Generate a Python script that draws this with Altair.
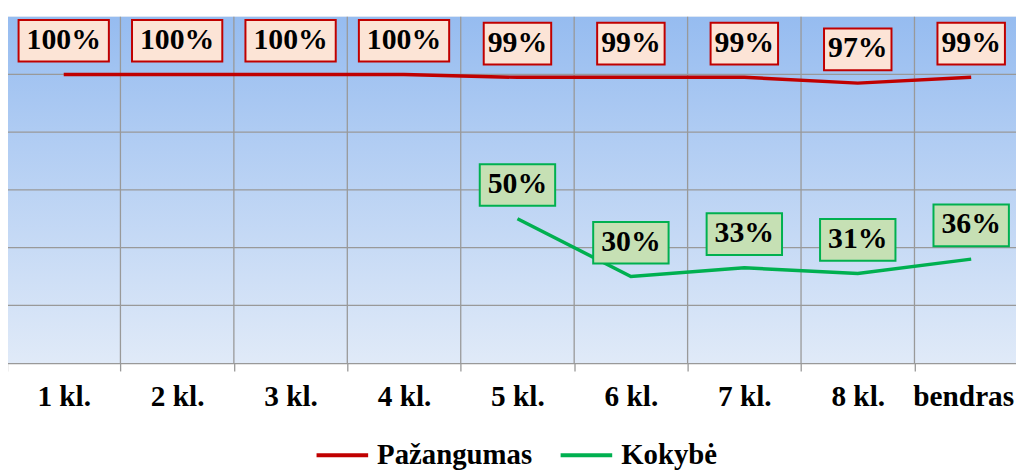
import altair as alt
import pandas as pd

categories = ["1 kl.", "2 kl.", "3 kl.", "4 kl.", "5 kl.", "6 kl.", "7 kl.", "8 kl.", "bendras"]
pazangumas = [100, 100, 100, 100, 99, 99, 99, 97, 99]
kokybe = [None, None, None, None, 50, 30, 33, 31, 36]
series_names = ["Pažangumas", "Kokybė"]
y_grid = [20, 40, 60, 80, 100]

rows = []
for c, p, k in zip(categories, pazangumas, kokybe):
    rows.append({"cat": c, "series": series_names[0], "v": p})
    if k is not None:
        rows.append({"cat": c, "series": series_names[1], "v": k})
df = pd.DataFrame(rows)

W, H = 1029, 349
FONT = "Liberation Serif"
FS = 30
GRID = "#999999"

xs = alt.Scale(domain=categories, paddingInner=0, paddingOuter=0)
ys = alt.Scale(domain=[0, 120], nice=False, zero=True)

x_axis = alt.Axis(title=None, labelAngle=0, labelFont=FONT, labelFontSize=29.5,
                  labelFontWeight="bold", labelColor="black", labelPadding=12,
                  labelOffset={"condition": {"test": "datum.value == 'bendras'", "value": -8},
                               "value": 0},
                  tickBand="extent", tickSize=8, tickColor=GRID, domainColor=GRID,
                  tickWidth=1.3, domainWidth=1.3, grid=False, labelOverlap=False)
x_enc = alt.X("cat:N", scale=xs, sort=categories, axis=x_axis)
y_enc = alt.Y("v:Q", scale=ys, axis=None)

bg = alt.Chart(pd.DataFrame({"a": [0]})).mark_rect(
    color=alt.LinearGradient(
        gradient="linear",
        stops=[alt.GradientStop(offset=0, color="#96bcf0"),
               alt.GradientStop(offset=1, color="#e0eaf8")],
        x1=0, x2=0, y1=0, y2=1)
).encode(x=alt.value(0), x2=alt.value(W), y=alt.value(0), y2=alt.value(H))

vgrid = alt.Chart(pd.DataFrame({"cat": categories[1:]})).mark_rule(
    color=GRID, strokeWidth=1.3
).encode(x=alt.X("cat:N", scale=xs, sort=categories, bandPosition=0, axis=x_axis),
         y=alt.value(0), y2=alt.value(H))

hgrid = alt.Chart(pd.DataFrame({"v": y_grid})).mark_rule(
    color=GRID, strokeWidth=1.3
).encode(y=y_enc, x=alt.value(0), x2=alt.value(W))

lines = alt.Chart(df).mark_line(strokeWidth=3.5).encode(
    x=x_enc, y=y_enc,
    color=alt.Color("series:N", sort=series_names,
                    scale=alt.Scale(domain=series_names, range=["#c00000", "#00b050"]),
                    legend=alt.Legend(orient="none", legendX=310, legendY=414,
                                      direction="horizontal", title=None,
                                      symbolType="stroke", symbolSize=2704,
                                      symbolStrokeWidth=4, labelFont=FONT,
                                      labelFontSize=29, labelFontWeight="bold",
                                      labelColor="black", labelOffset=7,
                                      columnPadding=20, labelLimit=300))
)

lab = alt.Chart(df).transform_calculate(label="format(datum.v / 100, '.0%')")

def box(cond, w, fill, stroke):
    return lab.transform_filter(cond).mark_rect(
        width=w, height=42, yOffset=-34, fill=fill, stroke=stroke, strokeWidth=2
    ).encode(x=x_enc, y=y_enc)

red4 = box("datum.series == 'Pažangumas' && length(datum.label) == 4", 91, "#fce4d6", "#c00000")
red3 = box("datum.series == 'Pažangumas' && length(datum.label) == 3", 68, "#fce4d6", "#c00000")
green = box("datum.series == 'Kokybė'", 76, "#c6e0b4", "#00b050")

texts = lab.mark_text(dy=-35, font=FONT, fontSize=FS, fontWeight="bold",
                      color="black", baseline="middle").encode(
    x=x_enc, y=y_enc, text="label:N")

chart = alt.layer(bg, vgrid, hgrid, lines, red4, red3, green, texts).properties(
    width=W, height=H,
    padding={"left": -1, "top": 7, "right": -12, "bottom": 106},
    autosize=alt.AutoSizeParams(type="none"),
).configure_view(stroke="#d8d8d8")

chart.save("out.html", embed_options={"renderer": "svg", "actions": False})
